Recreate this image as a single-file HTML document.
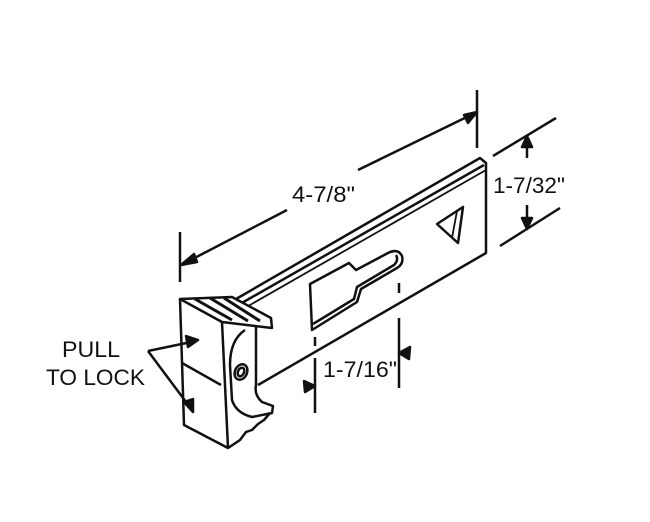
<!DOCTYPE html>
<html><head><style>html,body{margin:0;padding:0;background:#fff}svg{display:block}</style></head>
<body>
<svg width="650" height="522" viewBox="0 0 650 522" xmlns="http://www.w3.org/2000/svg" fill="none" stroke="#111" stroke-width="2.5" stroke-linejoin="round" font-family="Liberation Sans, sans-serif">
<!-- plate -->
<path d="M236,299 L480,158 L486,163 L486,253 L258,385"/>
<path d="M240,304 L484,165"/>
<path d="M243,309 L486,170" stroke-width="1.8"/>
<!-- triangle -->
<path d="M437,224 L463,207 L458,243 Z"/>
<path d="M457,211 L452,238" stroke-width="1.8"/>
<!-- slot -->
<path d="M310,284 L349,263 L356,270 L388,253 Q398,248 402,256 Q404,264 397,268 L361,289 L357,302 L312,330 Z"/>
<path d="M313,324 L354,299 L357,287 L394,265 Q399,260 396,255"/>
<!-- block -->
<path d="M180,299 L232,297 L271,318 L272,328 L222,322 Z" fill="#fff"/>
<path d="M195,299 L232,320 M210,298 L248,321 M224,298 L260,321" stroke-width="3"/>
<path d="M180,299 L184,425 L228,448 L222,322"/>
<path d="M182,363 L221,385"/>
<path d="M245,330 Q230,340 230,365 L232,400 Q236,413 252,417 L272,413 L273,406 L262,402 Q254,395 256,385 L256,327"/>
<path d="M228,448 L240,440 L246,432 L252,430 L258,424 L264,420 L270,413"/>
<ellipse cx="241" cy="372" rx="6" ry="8" transform="rotate(25 241 372)"/>
<ellipse cx="241" cy="372" rx="3" ry="4.5" transform="rotate(25 241 372)"/>
<!-- text -->
<g fill="#111" stroke="none" font-size="22">
<text x="62" y="357" textLength="58" lengthAdjust="spacingAndGlyphs">PULL</text>
<text x="46" y="385" textLength="99" lengthAdjust="spacingAndGlyphs">TO LOCK</text>
<text x="292" y="202" textLength="63" lengthAdjust="spacingAndGlyphs">4-7/8"</text>
<text x="493" y="193" textLength="72" lengthAdjust="spacingAndGlyphs">1-7/32"</text>
<text x="323" y="377" textLength="74" lengthAdjust="spacingAndGlyphs">1-7/16"</text>
</g>
<path d="M148,351 L196,341 M148,351 L192,410"/>
<path d="M198,340 L186,336 L188,347 Z M193,412 L184,402 L193,399 Z" fill="#111"/>
<!-- 4-7/8 dim -->
<path d="M180,232 L180,282 M477,90 L477,148"/>
<path d="M183,264 L287,210 M358,170 L475,113"/>
<path d="M181,265 L194,254 L197,262 Z M477,112 L464,115 L468,123 Z" fill="#111"/>
<!-- 1-7/32 dim -->
<path d="M493,156 L556,118 M500,246 L560,208"/>
<path d="M527,139 L527,158 M527,205 L527,226"/>
<path d="M527,136 L522,147 L532,147 Z M527,229 L522,218 L532,218 Z" fill="#111"/>
<!-- 1-7/16 dim -->
<path d="M315,358 L315,413 M315,337 L315,346 M399,318 L399,388 M399,283 L399,293"/>
<path d="M315,386 L304,381 L305,392 Z M399,353 L410,347 L409,359 Z" fill="#111"/>
</svg>
</body></html>
